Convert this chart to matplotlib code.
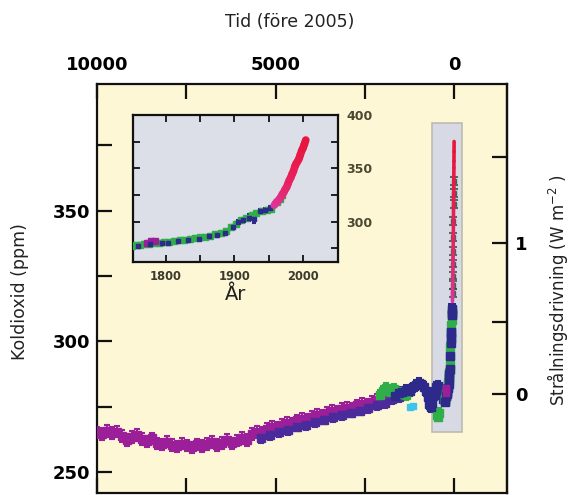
"""Koldioxid under de senaste 10000 åren, med inzoomad bild för 1750-2005."""

import matplotlib

matplotlib.use('Agg')
import matplotlib.pyplot as plt
import numpy as np
from matplotlib.collections import LineCollection
from matplotlib.colors import LinearSegmentedColormap
from matplotlib.patches import ConnectionPatch, Rectangle

# --- Holocene ice-core series (years before 2005, ppm) ---
dome_bp = [10000, 9860, 9720, 9580, 9440, 9300, 9160, 9020, 8880, 8740, 8600,
           8460, 8320, 8180, 8040, 7900, 7760, 7620, 7480, 7340, 7200, 7060,
           6920, 6780, 6640, 6500, 6360, 6220, 6080, 5940, 5800, 5660, 5520,
           5380, 5240, 5100, 4960, 4820, 4680, 4540, 4400, 4260, 4120, 3980,
           3840, 3700, 3560, 3420, 3280, 3140, 3000, 2860, 2720, 2580, 2440,
           2300, 2160, 2020]
dome_co2 = [265.2, 264.6, 265.8, 264.9, 265.5, 263.8, 262.2, 263.4, 264.1,
            262.6, 261.8, 262.9, 261.0, 260.6, 261.7, 260.4, 259.8, 260.9,
            260.2, 259.5, 260.6, 259.9, 260.8, 261.5, 260.3, 261.2, 262.4,
            261.0, 262.0, 263.1, 262.2, 264.5, 265.5, 265.0, 266.4, 267.2,
            266.8, 268.0, 268.9, 268.5, 269.8, 270.5, 270.0, 271.2, 271.9,
            271.5, 272.6, 273.3, 272.9, 274.1, 274.6, 274.3, 275.5, 276.1,
            275.8, 277.0, 277.6, 278.0]

taylor_bp = [5400, 5150, 4900, 4650, 4400, 4150, 3900, 3650, 3400, 3150, 2900,
             2650, 2400, 2150, 1950, 1750, 1550]
taylor_co2 = [263.0, 264.2, 265.3, 266.1, 267.4, 268.0, 269.2, 270.1, 271.0,
              271.8, 272.7, 273.5, 274.4, 275.6, 276.5, 277.8, 278.6]

green_bp = [2080, 2000, 1920, 1840, 1760, 1680, 1600, 1520, 1440, 1360,
            470, 440, 410]
green_co2 = [279.6, 281.0, 282.2, 281.4, 280.5, 281.8, 280.9, 279.8, 280.4,
             279.5, 272.0, 271.2, 272.6]

law_bp = [1650, 1550, 1450, 1350, 1250, 1150, 1060, 990, 920, 850, 790, 740,
          700, 660, 620, 580, 540, 500, 460, 420, 380, 340, 300, 260]
law_co2 = [279.2, 280.1, 280.8, 281.5, 281.0, 282.4, 283.3, 284.1, 283.6,
           282.7, 281.0, 278.6, 276.0, 274.8, 276.5, 279.0, 281.2, 282.6,
           283.0, 282.0, 280.9, 279.4, 278.1, 277.3]

cyan_bp = [1230, 1140]
cyan_co2 = [274.8, 275.3]

# --- Industrial era series (calendar year, ppm) ---
green_ad = [1750, 1756, 1762, 1768, 1775, 1782, 1790, 1797, 1805, 1812, 1820,
            1827, 1835, 1842, 1850, 1857, 1865, 1872, 1880, 1887, 1895, 1902,
            1910, 1917, 1925, 1932, 1940, 1947, 1954]
green_ad_co2 = [277.4, 277.8, 278.1, 278.6, 279.2, 279.5, 280.0, 280.6, 281.1,
                281.7, 282.2, 282.9, 283.5, 284.2, 285.0, 285.8, 286.8, 287.9,
                289.2, 290.8, 294.5, 298.0, 301.0, 303.5, 306.0, 308.2, 310.0,
                311.0, 312.2]

firn_ad = [1962, 1966, 1970, 1974, 1978, 1982, 1986, 1990, 1993, 1996]
firn_co2 = [318.5, 321.6, 325.2, 329.8, 334.6, 340.0, 346.1, 352.5, 356.9,
            361.5]

navy_ad = [1760, 1777, 1795, 1803, 1818, 1832, 1848, 1863, 1874, 1886, 1898,
           1905, 1912, 1921, 1928, 1937, 1944, 1952]
navy_co2 = [277.0, 279.0, 280.3, 280.0, 281.4, 282.3, 283.8, 286.2, 287.6,
            289.4, 294.6, 299.5, 301.2, 303.6, 302.8, 310.2, 311.0, 312.4]
navy_err = [1, 1, 1, 1, 1, 1, 1, 1.5, 1.5, 1.5, 2, 2, 2, 3, 4, 2, 2, 2]

siple_ad = [1772, 1778, 1784]
siple_co2 = [280.2, 282.0, 281.3]

mauna_ad = [1958, 1960, 1962, 1964, 1966, 1968, 1970, 1972, 1974, 1976, 1978,
            1980, 1982, 1984, 1986, 1988, 1990, 1992, 1994, 1996, 1998, 2000,
            2002, 2004]
mauna_co2 = [315.3, 316.9, 318.6, 319.6, 321.4, 323.1, 325.7, 327.5, 330.2,
             332.1, 335.4, 338.7, 341.1, 344.4, 347.2, 351.6, 354.4, 356.4,
             358.8, 362.6, 366.4, 369.0, 372.6, 376.5]

PURPLE = '#9a1f98'
BLUE = '#4b2a9c'
NAVY = '#2e2a8c'
GREEN = '#2fae4a'
CYAN = '#3cc4ea'
YELLOW = '#fdf7d6'
GREYBLUE = '#dcdee8'
red_cmap = LinearSegmentedColormap.from_list('ml', ['#e0359e', '#ea2160', '#e6163c'])

C0 = 280.0


def to_forcing(c):
    return 5.35 * np.log(np.asarray(c, dtype=float) / C0)


def to_co2(f):
    return C0 * np.exp(np.asarray(f, dtype=float) / 5.35)


def bp(years):
    return 2005 - np.asarray(years)


def pts(ax, x, y, color, ms, yerr=None, cap=2.0, z=3, alpha=1.0):
    ax.errorbar(x, y, yerr=yerr, fmt='s', ms=ms, color=color, mec=color,
                elinewidth=1.5, capsize=cap, capthick=1.5, zorder=z, lw=0,
                alpha=alpha)


def colored_line(ax, x, y, years, lw):
    xy = np.column_stack([x, y]).reshape(-1, 1, 2)
    segs = np.concatenate([xy[:-1], xy[1:]], axis=1)
    lc = LineCollection(segs, cmap=red_cmap, linewidths=lw, zorder=5,
                        capstyle='round')
    lc.set_array(np.asarray(years[:-1], dtype=float))
    ax.add_collection(lc)


fig = plt.figure(figsize=(5.69, 4.95), dpi=100)
ax = fig.add_axes([97 / 569, 2 / 495, 410 / 569, 409 / 495])
ax.set_facecolor(YELLOW)
ax.set_xlim(10000, -1480)
ax.set_ylim(242, 398.5)

ax.add_patch(Rectangle((-224, 265.4), 840, 118.1, facecolor='#d7dae5',
                       edgecolor='#bdbbb0', lw=1.2, zorder=1))

pts(ax, dome_bp, dome_co2, PURPLE, 5.5, yerr=2.2, cap=2.5)
pts(ax, taylor_bp, taylor_co2, BLUE, 5.5, yerr=1.8, cap=2.5)
pts(ax, green_bp, green_co2, GREEN, 5.5, yerr=1.8, cap=2.5)
pts(ax, law_bp, law_co2, NAVY, 5.5, yerr=1.8, cap=2.5)
pts(ax, cyan_bp, cyan_co2, CYAN, 4.5)
pts(ax, bp(green_ad), green_ad_co2, GREEN, 5.5, yerr=1.5, cap=3)
pts(ax, bp(firn_ad), firn_co2, '#24573f', 3.5, yerr=1.5, cap=3, alpha=0.8)
pts(ax, bp(navy_ad), navy_co2, NAVY, 5.5, yerr=navy_err, cap=3)
pts(ax, bp(siple_ad), siple_co2, PURPLE, 5.0)
colored_line(ax, bp(mauna_ad), mauna_co2, mauna_ad, 2.6)

tick_kw = dict(direction='in', length=11, width=1.6, color='#111111')
ax.xaxis.set_ticks_position('both')
ax.tick_params(axis='x', which='both', labelbottom=False, labeltop=True,
               pad=7, **tick_kw)
ax.set_xticks([10000, 5000, 0], labels=['10000', '5000', '0'],
              fontsize=13, fontweight='bold')
ax.set_xticks([7500, 2500], minor=True)
ax.tick_params(axis='y', which='both', right=False, pad=5, **tick_kw)
ax.set_yticks([250, 300, 350], labels=['250', '300', '350'],
              fontsize=13, fontweight='bold')
ax.set_yticks([275, 325, 375], minor=True)
for sp in ax.spines.values():
    sp.set_linewidth(1.6)
    sp.set_color('#111111')

ax2 = ax.secondary_yaxis('right', functions=(to_forcing, to_co2))
ax2.tick_params(axis='y', which='both', pad=6, **tick_kw)
ax2.set_yticks([0, 1], labels=['0', '1'], fontsize=13, fontweight='bold')
ax2.set_yticks([0.5, 1.5], minor=True)
ax2.spines['right'].set_linewidth(1.6)

fig.text(290 / 569, 1 - 22 / 495, 'Tid (före 2005)', ha='center', va='center',
         fontsize=12.5, color='#222222')
fig.text(20 / 569, 1 - 292 / 495, 'Koldioxid (ppm)', rotation=90,
         ha='center', va='center', fontsize=12.5, color='#222222')
fig.text(558 / 569, 1 - 290 / 495, 'Strålningsdrivning (W m$^{-2}$ )',
         rotation=90, ha='center', va='center', fontsize=12, color='#222222')

# --- inset 1750-2005 ---
axin = fig.add_axes([133 / 569, (495 - 262) / 495, 205 / 569, 147 / 495])
axin.set_facecolor(GREYBLUE)
axin.set_xlim(1752, 2051)
axin.set_ylim(262, 400)
pts(axin, green_ad, green_ad_co2, GREEN, 4.2, yerr=1.8, cap=1.5)
pts(axin, firn_ad[:3], firn_co2[:3], GREEN, 4.2, yerr=1.5, cap=1.5)
pts(axin, siple_ad, siple_co2, PURPLE, 4.2, yerr=1.5, cap=1.5)
pts(axin, navy_ad, navy_co2, NAVY, 2.8, yerr=navy_err, cap=1.5)
colored_line(axin, mauna_ad, mauna_co2, mauna_ad, 5.5)

in_kw = dict(direction='in', length=5, width=1.3, color='#111111')
axin.xaxis.set_ticks_position('both')
axin.yaxis.set_ticks_position('both')
axin.tick_params(axis='both', which='both', **in_kw)
axin.tick_params(axis='x', pad=6, labelcolor='#3b3a2c')
axin.tick_params(axis='y', labelleft=False, labelright=True, pad=6,
                 labelcolor='#4a4830')
axin.set_xticks([1800, 1900, 2000], labels=['1800', '1900', '2000'],
                fontsize=8.3, fontweight='bold')
axin.set_xticks([1850, 1950], minor=True)
axin.set_yticks([300, 350, 400], labels=['300', '350', '400'],
                fontsize=9, fontweight='bold')
axin.set_yticks([275, 325, 375], minor=True)
for sp in axin.spines.values():
    sp.set_linewidth(1.6)
    sp.set_color('#111111')
axin.set_xlabel('År', fontsize=14, labelpad=1, color='#222222')

line_kw = dict(color='#c6bfa2', lw=1.1, zorder=0)
fig.add_artist(ConnectionPatch(xyA=(0, 0), coordsA=axin.transAxes,
                               xyB=(616, 265.4), coordsB=ax.transData, **line_kw))
fig.add_artist(ConnectionPatch(xyA=(1.17, 0.96), coordsA=axin.transAxes,
                               xyB=(616, 383.5), coordsB=ax.transData, **line_kw))

fig.savefig('out.png', dpi=100)
